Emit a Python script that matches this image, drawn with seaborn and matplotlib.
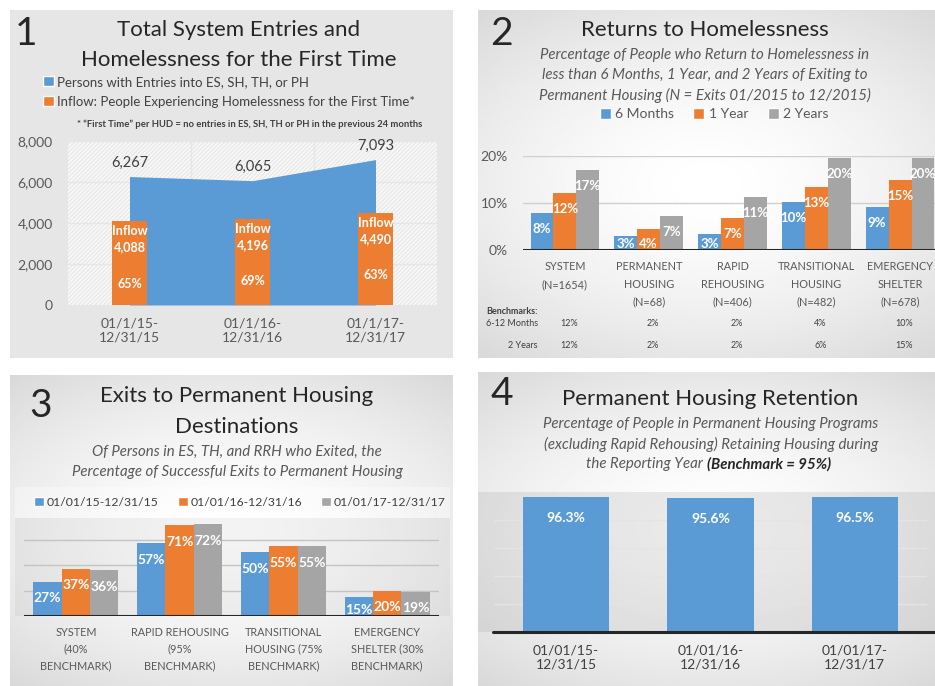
import numpy as np
import pandas as pd
import matplotlib as mpl
mpl.use("Agg")
import matplotlib.pyplot as plt
from matplotlib.patches import Rectangle, Patch
from matplotlib.transforms import blended_transform_factory
import seaborn as sns

# ---- data ----
# panel 1: total system entries vs first-time homeless
p1_periods = ["01/1/15-\n12/31/15", "01/1/16-\n12/31/16", "01/1/17-\n12/31/17"]
p1_entries = [6267, 6065, 7093]
p1_inflow = [4088, 4196, 4490]

# panel 2: returns to homelessness (%)
p2_programs = ["SYSTEM\n(N=1654)", "PERMANENT\nHOUSING\n(N=68)", "RAPID\nREHOUSING\n(N=406)",
               "TRANSITIONAL\nHOUSING\n(N=482)", "EMERGENCY\nSHELTER\n(N=678)"]
p2_series = ["6 Months", "1 Year", "2 Years"]
p2_six_months = [7.9, 3.0, 3.4, 10.2, 9.1]
p2_one_year = [12.1, 4.4, 6.8, 13.4, 14.9]
p2_two_years = [17.0, 7.2, 11.3, 19.6, 19.6]
p2_bench_6_12 = ["12%", "2%", "2%", "4%", "10%"]
p2_bench_2y = ["12%", "2%", "2%", "6%", "15%"]

# panel 3: exits to permanent housing (%)
p3_programs = ["SYSTEM\n(40%\nBENCHMARK)", "RAPID REHOUSING\n(95%\nBENCHMARK)",
               "TRANSITIONAL\nHOUSING (75%\nBENCHMARK)", "EMERGENCY\nSHELTER (30%\nBENCHMARK)"]
p3_periods = ["01/01/15-12/31/15", "01/01/16-12/31/16", "01/01/17-12/31/17"]
p3_2015 = [27, 57, 50, 15]
p3_2016 = [37, 71, 55, 20]
p3_2017 = [36, 72, 55, 19]

# panel 4: permanent housing retention (%)
p4_periods = ["01/01/15-\n12/31/15", "01/01/16-\n12/31/16", "01/01/17-\n12/31/17"]
p4_retention = [96.3, 95.6, 96.5]

BLUE, ORANGE, GRAY = "#5b9bd5", "#ed7d31", "#a5a5a5"
DARK, MID = "#262626", "#595959"
W, H = 935, 686


def px_rect(l, t, r, b):
    return [l / W, 1 - b / H, (r - l) / W, (b - t) / H]


def fx(x):
    return x / W


def fy(y):
    return 1 - y / H


def gradient_bg(fig, l, t, r, b):
    yy, xx = np.mgrid[-1:1:200j, -1:1:200j]
    rr = np.sqrt(0.7 * xx ** 2 + yy ** 2)
    val = 1.0 - 0.15 * np.clip(rr / 1.3, 0, 1) ** 1.6
    bg = fig.add_axes(px_rect(l, t, r, b), zorder=-10)
    bg.imshow(val, cmap="gray", vmin=0, vmax=1, aspect="auto", extent=[0, 1, 0, 1])
    bg.axis("off")


def label_bars(ax, labels_per_container, offset, size, fmt):
    for cont, vals in zip(ax.containers, labels_per_container):
        for bar, v in zip(cont, vals):
            top = bar.get_height()
            hpts = ax.transData.transform((0, top))[1] - ax.transData.transform((0, 0))[1]
            hpts = hpts * 72 / ax.figure.dpi
            off = min(offset, hpts - 4)
            ax.annotate(fmt(v), (bar.get_x() + bar.get_width() / 2, top), xytext=(0, -off),
                        textcoords="offset points", ha="center", va="center",
                        color="white", fontweight="bold", fontsize=size, zorder=5)


def style_axes(ax):
    sns.despine(ax=ax, left=True, bottom=True)
    ax.set_xlabel("")
    ax.set_ylabel("")
    ax.set_facecolor("none")


sns.set_style("white")
plt.rcParams["font.family"] = ["Lato", "DejaVu Sans"]
plt.rcParams["hatch.linewidth"] = 0.6

fig = plt.figure(figsize=(9.35, 6.86), dpi=100)

# ---------------- panel 1 ----------------
fig.add_artist(Rectangle((fx(10), fy(358)), fx(443), (358 - 10) / H, transform=fig.transFigure,
                         facecolor="#e6e6e6", edgecolor="none", zorder=-20))
ax1 = fig.add_axes(px_rect(68, 141, 437, 305))
ax1.add_patch(Rectangle((0, 0), 1, 1, transform=ax1.transAxes, facecolor="#f7f7f7",
                        edgecolor="#e2e2e2", hatch="////////", lw=0, zorder=0))
sns.barplot(x=p1_periods, y=p1_inflow, color=ORANGE, saturation=1, width=0.29, ax=ax1,
            linewidth=0, zorder=3)
ax1.fill_between(range(len(p1_entries)), p1_entries, color=BLUE, lw=0, zorder=2)
for yv in [2000, 4000, 6000, 8000]:
    ax1.axhline(yv, color="#e6e6e6", lw=1, zorder=1)
for xv in [0.5, 1.5]:
    ax1.axvline(xv, color="#e6e6e6", lw=1, zorder=1)
ax1.set_xlim(-0.5, 2.5)
ax1.set_ylim(0, 8000)
ax1.set_yticks([0, 2000, 4000, 6000, 8000])
ax1.set_yticklabels([f"{v:,}" for v in [0, 2000, 4000, 6000, 8000]])
style_axes(ax1)
ax1.tick_params(axis="y", length=0, pad=11, labelsize=10, labelcolor=MID)
ax1.tick_params(axis="x", length=0, pad=9, labelsize=10, labelcolor=MID)
for i, (tot, inf) in enumerate(zip(p1_entries, p1_inflow)):
    ax1.annotate(f"{tot:,}", (i, tot), xytext=(0, 10), textcoords="offset points",
                 ha="center", va="center", fontsize=10.5, color="#404040")
    ax1.annotate(f"Inflow\n{inf:,}", (i, inf), xytext=(0, -3), textcoords="offset points",
                 ha="center", va="top", fontsize=9, color="white", fontweight="bold",
                 linespacing=1.4, zorder=5)
    ax1.annotate(f"{inf / tot:.0%}", (i, inf), xytext=(0, -45), textcoords="offset points",
                 ha="center", va="center", fontsize=9, color="white", fontweight="bold", zorder=5)

fig.text(fx(15), fy(34), "1", fontsize=28, color=DARK, va="center", ha="left")
fig.text(fx(239), fy(30), "Total System Entries and", fontsize=16, color=DARK, ha="center", va="center")
fig.text(fx(239), fy(60), "Homelessness for the First Time", fontsize=16, color=DARK, ha="center", va="center")
fig.legend([Patch(facecolor=BLUE), Patch(facecolor=ORANGE)],
           ["Persons with Entries into ES, SH, TH, or PH",
            "Inflow: People Experiencing Homelessness for the First Time*"],
           loc="upper left", bbox_to_anchor=(fx(43), fy(76)), frameon=False, fontsize=9.5,
           handlelength=0.8, handleheight=0.8, handletextpad=0.25, labelspacing=0.6,
           borderpad=0, borderaxespad=0, labelcolor="#404040")
fig.text(fx(250), fy(124), "* \u201cFirst Time\u201d per HUD = no entries in ES, SH, TH or PH in the previous 24 months",
         fontsize=6.8, color="#404040", ha="center", va="center", fontweight="bold")

# ---------------- panel 2 ----------------
gradient_bg(fig, 478, 10, 935, 358)
ax2 = fig.add_axes(px_rect(523, 156, 942, 250))
df2 = pd.DataFrame({
    "program": p2_programs * 3,
    "series": np.repeat(p2_series, len(p2_programs)),
    "value": p2_six_months + p2_one_year + p2_two_years,
})
sns.barplot(data=df2, x="program", y="value", hue="series", hue_order=p2_series,
            palette=[BLUE, ORANGE, GRAY], saturation=1, width=0.82, ax=ax2, legend=False,
            linewidth=0, zorder=3)
ax2.set_ylim(0, 20)
ax2.set_yticks([0, 10, 20])
ax2.set_yticklabels(["0%", "10%", "20%"])
for yv in [10, 20]:
    ax2.axhline(yv, color="#cfcfcf", lw=1, zorder=1)
ax2.axhline(0, color=DARK, lw=2.2, zorder=4)
style_axes(ax2)
ax2.tick_params(axis="y", length=0, pad=11, labelsize=10, labelcolor=MID)
ax2.tick_params(axis="x", length=0, pad=8, labelsize=7.8, labelcolor=MID)
for t in ax2.get_xticklabels():
    t.set_linespacing(1.75)
label_bars(ax2, [p2_six_months, p2_one_year, p2_two_years], 11.5, 9.5, lambda v: f"{v:.0f}%")

fig.text(fx(490), fy(34), "2", fontsize=28, color=DARK, va="center", ha="left")
fig.text(fx(705), fy(30), "Returns to Homelessness", fontsize=16, color=DARK, ha="center", va="center")
for k, line in enumerate(["Percentage of People who Return to Homelessness in",
                          "less than 6 Months, 1 Year, and 2 Years of Exiting to",
                          "Permanent Housing (N = Exits 01/2015 to 12/2015)"]):
    fig.text(fx(705), fy(55 + 20 * k), line, fontsize=10.8, style="italic", color=MID,
             ha="center", va="center")
fig.legend([Patch(facecolor=c) for c in [BLUE, ORANGE, GRAY]], p2_series, loc="center",
           bbox_to_anchor=(fx(714), fy(114)), ncol=3, frameon=False, fontsize=10,
           handlelength=0.8, handleheight=0.8, handletextpad=0.3, columnspacing=1.4,
           borderpad=0, borderaxespad=0, labelcolor=MID)
tr2 = blended_transform_factory(ax2.transData, fig.transFigure)
fig.text(fx(486), fy(312), "Benchmarks:", fontsize=6.5, fontweight="bold", color="#404040",
         ha="left", va="center")
fig.text(fx(538), fy(324), "6-12 Months", fontsize=6.5, color="#404040", ha="right", va="center")
fig.text(fx(538), fy(346), "2 Years", fontsize=6.5, color="#404040", ha="right", va="center")
for i, (b1, b2) in enumerate(zip(p2_bench_6_12, p2_bench_2y)):
    ax2.text(i + 0.05, fy(324), b1, transform=tr2, fontsize=6.5, color="#404040", ha="center", va="center")
    ax2.text(i + 0.05, fy(346), b2, transform=tr2, fontsize=6.5, color="#404040", ha="center", va="center")

# ---------------- panel 3 ----------------
gradient_bg(fig, 10, 375, 453, 686)
fig.add_artist(Rectangle((fx(15), fy(518)), (450 - 15) / W, (518 - 487) / H, transform=fig.transFigure,
                         facecolor="white", alpha=0.35, edgecolor="none", zorder=-5))
fig.add_artist(Rectangle((fx(15), fy(616)), (450 - 15) / W, (616 - 518) / H, transform=fig.transFigure,
                         facecolor="#b0b0b0", alpha=0.15, edgecolor="none", zorder=-5))
ax3 = fig.add_axes(px_rect(24, 514, 439, 616))
df3 = pd.DataFrame({
    "program": p3_programs * 3,
    "period": np.repeat(p3_periods, len(p3_programs)),
    "value": p3_2015 + p3_2016 + p3_2017,
})
sns.barplot(data=df3, x="program", y="value", hue="period", hue_order=p3_periods,
            palette=[BLUE, ORANGE, GRAY], saturation=1, width=0.82, ax=ax3, legend=False,
            linewidth=0, zorder=3)
ax3.set_ylim(0, 80)
ax3.set_yticks([])
for yv in [20, 40, 60]:
    ax3.axhline(yv, color="#c4c4c4", lw=1, zorder=1)
ax3.axhline(0, color=DARK, lw=2.2, zorder=4)
style_axes(ax3)
ax3.tick_params(axis="x", length=0, pad=8, labelsize=7.8, labelcolor=MID)
for t in ax3.get_xticklabels():
    t.set_linespacing(1.6)
label_bars(ax3, [p3_2015, p3_2016, p3_2017], 12, 10, lambda v: f"{v:.0f}%")

fig.text(fx(29), fy(406), "3", fontsize=28, color=DARK, va="center", ha="left")
fig.text(fx(237), fy(396), "Exits to Permanent Housing", fontsize=16, color=DARK, ha="center", va="center")
fig.text(fx(237), fy(427), "Destinations", fontsize=16, color=DARK, ha="center", va="center")
fig.text(fx(237), fy(452), "Of Persons in ES, TH, and RRH who Exited, the", fontsize=10.8,
         style="italic", color=MID, ha="center", va="center")
fig.text(fx(237), fy(472), "Percentage of Successful Exits to Permanent Housing", fontsize=10.8,
         style="italic", color=MID, ha="center", va="center")
fig.legend([Patch(facecolor=c) for c in [BLUE, ORANGE, GRAY]], p3_periods, loc="center",
           bbox_to_anchor=(fx(240), fy(502)), ncol=3, frameon=False, fontsize=8.8,
           handlelength=0.8, handleheight=0.8, handletextpad=0.2, columnspacing=1.6,
           borderpad=0, borderaxespad=0, labelcolor="#404040")

# ---------------- panel 4 ----------------
gradient_bg(fig, 478, 372, 935, 686)
fig.add_artist(Rectangle((fx(478), fy(632)), (935 - 478) / W, (632 - 492) / H, transform=fig.transFigure,
                         facecolor="#a0a0a0", alpha=0.22, edgecolor="none", zorder=-5))
ax4 = fig.add_axes(px_rect(494, 492, 927, 632))
sns.barplot(x=p4_periods, y=p4_retention, color=BLUE, saturation=1, width=0.6, ax=ax4,
            linewidth=0, zorder=3)
ax4.set_ylim(0, 100)
ax4.set_yticks([])
for yv in [20, 40, 60, 80]:
    ax4.axhline(yv, color="#e4e4e4", lw=1, zorder=1)
style_axes(ax4)
ax4.tick_params(axis="x", length=0, pad=9, labelsize=10, labelcolor="#404040")
label_bars(ax4, [p4_retention], 15, 10, lambda v: f"{v:.1f}%")
fig.add_artist(plt.Line2D([fx(493), fx(935)], [fy(632), fy(632)], color=DARK, lw=2.2,
                          transform=fig.transFigure))

fig.text(fx(490), fy(394), "4", fontsize=28, color=DARK, va="center", ha="left")
fig.text(fx(710), fy(399), "Permanent Housing Retention", fontsize=16, color=DARK, ha="center", va="center")
fig.text(fx(711), fy(424), "Percentage of People in Permanent Housing Programs", fontsize=10.8,
         style="italic", color=MID, ha="center", va="center")
fig.text(fx(711), fy(444), "(excluding Rapid Rehousing) Retaining Housing during", fontsize=10.8,
         style="italic", color=MID, ha="center", va="center")
fig.text(fx(706), fy(464), "the Reporting Year ", fontsize=10.8, style="italic", color=MID,
         ha="right", va="center")
fig.text(fx(707), fy(464), "(Benchmark = 95%)", fontsize=10.8, style="italic", fontweight="bold",
         color=DARK, ha="left", va="center")

fig.savefig("out.png", dpi=100, facecolor="white")
